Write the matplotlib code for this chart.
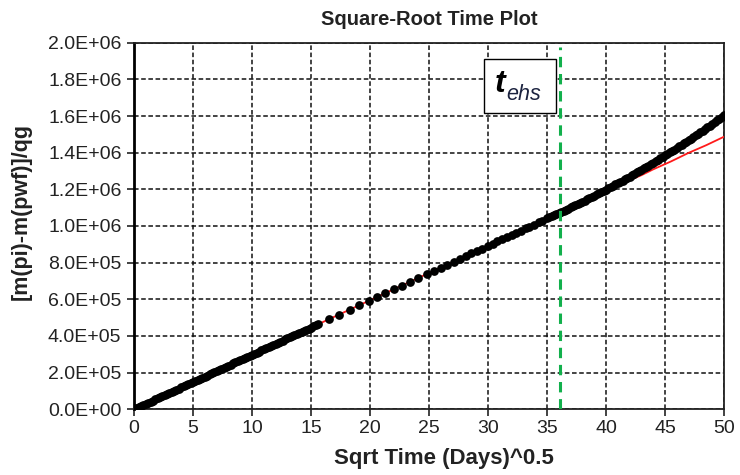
import matplotlib
matplotlib.use("Agg")
import matplotlib.pyplot as plt
from matplotlib.patches import Rectangle

plt.rcParams['font.family'] = ['Liberation Sans', 'DejaVu Sans']

# Early-time points: square-root of time (days^0.5) and
# [m(pi)-m(pwf)]/qg in units of 1E+05
early_sqrt_t = [
    0.2, 0.4, 0.6, 0.8, 1.0, 1.2, 1.4, 1.6, 1.8, 2.0, 2.2, 2.4, 2.6, 2.8,
    3.0, 3.2, 3.4, 3.6, 3.8, 4.0, 4.2, 4.4, 4.6, 4.8, 5.0, 5.2, 5.4, 5.6,
    5.8, 6.0, 6.2, 6.4, 6.6, 6.8, 7.0, 7.2, 7.4, 7.6, 7.8, 8.0, 8.2, 8.4,
    8.6, 8.8, 9.0, 9.2, 9.4, 9.6, 9.8, 10.0, 10.2, 10.4, 10.6, 10.8, 11.0,
    11.2, 11.4, 11.6, 11.8, 12.0, 12.2, 12.4, 12.6, 12.8, 13.0, 13.2, 13.4,
    13.6, 13.8, 14.0, 14.2, 14.4, 14.6, 14.8, 15.0, 15.2, 15.4, 15.6,
]
early_dm_e5 = [
    0.06, 0.12, 0.18, 0.24, 0.30, 0.36, 0.42, 0.48, 0.54, 0.59, 0.65, 0.71,
    0.77, 0.83, 0.89, 0.95, 1.01, 1.07, 1.13, 1.19, 1.25, 1.31, 1.37, 1.43,
    1.49, 1.55, 1.61, 1.67, 1.72, 1.78, 1.84, 1.90, 1.96, 2.02, 2.08, 2.14,
    2.20, 2.26, 2.32, 2.38, 2.44, 2.50, 2.56, 2.62, 2.68, 2.74, 2.80, 2.86,
    2.91, 2.97, 3.03, 3.09, 3.15, 3.21, 3.27, 3.33, 3.39, 3.45, 3.51, 3.57,
    3.63, 3.69, 3.75, 3.81, 3.87, 3.93, 3.99, 4.04, 4.10, 4.16, 4.22, 4.28,
    4.34, 4.40, 4.46, 4.52, 4.58, 4.64,
]

# Mid-time points (sparser sampling)
mid_sqrt_t = [
    16.5, 17.4, 18.3, 19.1, 19.9, 20.6, 21.3, 22.0, 22.7, 23.4, 24.1, 24.8,
    25.4, 26.0, 26.5, 27.1, 27.6, 28.1, 28.6, 29.1, 29.5, 30.0, 30.4, 30.8,
    31.2, 31.6, 32.0, 32.4, 32.8, 33.2, 33.5, 33.9, 34.3, 34.6, 35.0,
]
mid_dm_e5 = [
    4.91, 5.17, 5.44, 5.68, 5.92, 6.13, 6.33, 6.54, 6.75, 6.96, 7.17, 7.38,
    7.55, 7.73, 7.88, 8.06, 8.21, 8.36, 8.51, 8.65, 8.77, 8.92, 9.04, 9.16,
    9.28, 9.40, 9.52, 9.64, 9.75, 9.87, 9.96, 10.08, 10.20, 10.29, 10.41,
]

# Late-time points
late_sqrt_t = [
    35.2, 35.4, 35.6, 35.8, 36.0, 36.2, 36.4, 36.6, 36.8, 37.0, 37.2, 37.4,
    37.6, 37.8, 38.0, 38.2, 38.4, 38.6, 38.8, 39.0, 39.2, 39.4, 39.6, 39.8,
    40.0, 40.2, 40.4, 40.6, 40.8, 41.0, 41.2, 41.4, 41.6, 41.8, 42.0, 42.2,
    42.4, 42.6, 42.8, 43.0, 43.2, 43.4, 43.6, 43.8, 44.0, 44.2, 44.4, 44.6,
    44.8, 45.0, 45.2, 45.4, 45.6, 45.8, 46.0, 46.2, 46.4, 46.6, 46.8, 47.0,
    47.2, 47.4, 47.6, 47.8, 48.0, 48.2, 48.4, 48.6, 48.8, 49.0, 49.2, 49.4,
    49.6, 49.8, 50.0,
]
late_dm_e5 = [
    10.47, 10.53, 10.59, 10.65, 10.71, 10.77, 10.83, 10.89, 10.95, 11.01,
    11.07, 11.14, 11.20, 11.26, 11.32, 11.39, 11.45, 11.52, 11.58, 11.65,
    11.72, 11.79, 11.85, 11.92, 11.99, 12.06, 12.13, 12.20, 12.27, 12.34,
    12.41, 12.48, 12.55, 12.62, 12.69, 12.77, 12.84, 12.92, 12.99, 13.07,
    13.14, 13.22, 13.29, 13.37, 13.45, 13.53, 13.61, 13.69, 13.77, 13.85,
    13.93, 14.01, 14.09, 14.17, 14.25, 14.34, 14.42, 14.51, 14.59, 14.68,
    14.76, 14.85, 14.94, 15.03, 15.12, 15.21, 15.30, 15.39, 15.48, 15.57,
    15.66, 15.76, 15.86, 15.97, 16.08,
]

# Straight-line (linear flow) trend
trend_x = [0.0, 10.0, 20.0, 30.0, 36.0, 38.0, 40.0, 41.5, 43.0, 44.0, 45.5,
           47.0, 48.5, 50.0]
trend_e5 = [0.0, 2.97, 5.95, 8.92, 10.71, 11.31, 11.90, 12.36, 12.77, 13.09,
            13.52, 13.99, 14.41, 14.87]

# End of half-slope time
t_ehs = 36.1

x_ticks = [0, 5, 10, 15, 20, 25, 30, 35, 40, 45, 50]
y_ticks = [0, 2e5, 4e5, 6e5, 8e5, 1.0e6, 1.2e6, 1.4e6, 1.6e6, 1.8e6, 2.0e6]

fig = plt.figure(figsize=(7.4, 4.75), dpi=100)
ax = fig.add_axes([134 / 740, 1 - 409.3 / 475, 590 / 740, 366.6 / 475])

ax.set_xlim(0, 50)
ax.set_ylim(0, 2.0e6)
ax.set_xticks(x_ticks)
ax.set_yticks(y_ticks)
ax.set_yticklabels([f"{v:.1E}" for v in y_ticks])

ax.grid(True, color='#111111', linestyle=(0, (3.0, 1.7)), linewidth=1.1)
ax.set_axisbelow(True)

ax.plot(trend_x, [v * 1e5 for v in trend_e5], color='#ff1a1a', lw=1.3,
        zorder=3)

for xs, ys in [(early_sqrt_t, early_dm_e5), (mid_sqrt_t, mid_dm_e5),
               (late_sqrt_t, late_dm_e5)]:
    ax.plot(xs, [v * 1e5 for v in ys], linestyle='none', marker='o',
            markersize=6.3, color='black', markeredgewidth=0, zorder=4)

ax.plot([t_ehs, t_ehs], [0, 1.975e6], color='#12b04c', lw=2.2,
        linestyle=(0, (3.4, 2.2)), zorder=5)

box = Rectangle((29.7, 1.617e6), 6.1, 0.294e6, facecolor='white',
                edgecolor='black', lw=1.0, zorder=6)
ax.add_patch(box)
ax.text(30.6, 1.73e6, 't', fontsize=23, fontweight='bold', style='italic',
        color='black', zorder=7, va='baseline', ha='left')
ax.text(31.55, 1.685e6, 'ehs', fontsize=15.5, style='italic',
        color='#1c2340', zorder=7, va='baseline', ha='left')

for side in ['top', 'right', 'bottom']:
    ax.spines[side].set_linewidth(1.3)
    ax.spines[side].set_color('#222222')
ax.spines['left'].set_linewidth(2.0)
ax.spines['left'].set_color('black')

ax.tick_params(axis='both', direction='out', length=5, width=1.2,
               labelsize=14, colors='#222222', pad=3)
ax.tick_params(axis='y', pad=4)

ax.set_title('Square-Root Time Plot', fontsize=14.5, fontweight='bold',
             color='#222222', pad=13)
ax.set_xlabel('Sqrt Time (Days)^0.5', fontsize=16, fontweight='bold',
              color='#222222')
ax.xaxis.set_label_coords((444 - 134) / 590, -0.105)
ax.set_ylabel('[m(pi)-m(pwf)]/qg', fontsize=15.5, fontweight='bold',
              color='#222222')
ax.yaxis.set_label_coords((32 - 134) / 590, (409.3 - 211) / 366.6)

fig.savefig('out.png', dpi=100, facecolor='white')
